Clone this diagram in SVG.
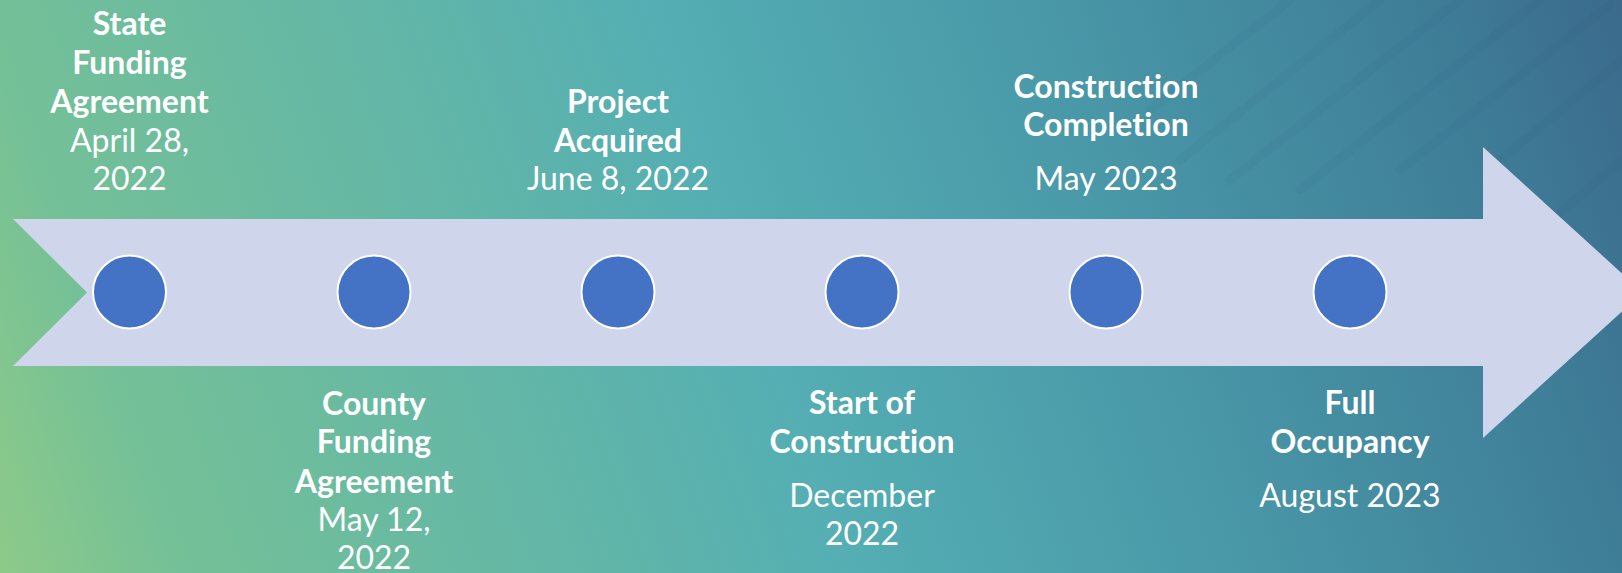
<svg xmlns="http://www.w3.org/2000/svg" width="1622" height="573" viewBox="0 0 1622 573">
  <defs>
    <linearGradient id="bg" gradientUnits="userSpaceOnUse" x1="0" y1="573" x2="1622" y2="0">
      <stop offset="0" stop-color="#8dca89"/>
      <stop offset="0.1" stop-color="#74c097"/>
      <stop offset="0.3" stop-color="#64b7a6"/>
      <stop offset="0.47" stop-color="#54aeb3"/>
      <stop offset="0.68" stop-color="#4998a8"/>
      <stop offset="0.88" stop-color="#3f7f98"/>
      <stop offset="1" stop-color="#3b6a8c"/>
    </linearGradient>
    <style>
      text { font-variant-ligatures: none; font-feature-settings: "liga" 0, "clig" 0; }
      .b { font-family: Lato, "Open Sans", "Liberation Sans", sans-serif; font-size: 32px; font-weight: bold; fill: #ffffff; text-anchor: middle; }
      .r { font-family: Lato, "Open Sans", "Liberation Sans", sans-serif; font-size: 32px; font-weight: normal; fill: #ffffff; text-anchor: middle; }
      .dot { fill: #4472c4; stroke: #ffffff; stroke-width: 2; }
      .streak { stroke: #1e557c; stroke-width: 9; stroke-linecap: round; opacity: 0.05; fill: none; }
    </style>
  </defs>

  <rect x="0" y="0" width="1622" height="573" fill="url(#bg)"/>

  <g id="texture">
    <line class="streak" x1="1150" y1="110" x2="1290" y2="0"/>
    <line class="streak" x1="1180" y1="160" x2="1380" y2="0"/>
    <line class="streak" x1="1230" y1="180" x2="1460" y2="0"/>
    <line class="streak" x1="1300" y1="190" x2="1540" y2="0"/>
    <line class="streak" x1="1400" y1="170" x2="1610" y2="5"/>
    <line class="streak" x1="1500" y1="160" x2="1622" y2="60"/>
    <line class="streak" x1="1540" y1="230" x2="1622" y2="160"/>
  </g>

  <g id="connectors">
    <polygon id="timeline-arrow" points="13,219 1483,219 1483,147 1643,292.5 1483,438 1483,366 13,366 87,292.5" fill="#cfd5ea"/>
  </g>

  <g id="node-state">
    <circle class="dot" cx="129.5" cy="292" r="36.5"/>
    <text class="b" x="129.5" y="35">State</text>
    <text class="b" x="129.5" y="74">Funding</text>
    <text class="b" x="129.5" y="113">Agreement</text>
    <text class="r" x="129.5" y="152">April 28,</text>
    <text class="r" x="129.5" y="190">2022</text>
  </g>

  <g id="node-county">
    <circle class="dot" cx="374" cy="292" r="36.5"/>
    <text class="b" x="374" y="415">County</text>
    <text class="b" x="374" y="453">Funding</text>
    <text class="b" x="374" y="493">Agreement</text>
    <text class="r" x="374" y="531">May 12,</text>
    <text class="r" x="374" y="569">2022</text>
  </g>

  <g id="node-project">
    <circle class="dot" cx="618" cy="292" r="36.5"/>
    <text class="b" x="618" y="113">Project</text>
    <text class="b" x="618" y="152">Acquired</text>
    <text class="r" x="618" y="190">June 8, 2022</text>
  </g>

  <g id="node-start">
    <circle class="dot" cx="862" cy="292" r="36.5"/>
    <text class="b" x="862" y="414">Start of</text>
    <text class="b" x="862" y="453">Construction</text>
    <text class="r" x="862" y="507">December</text>
    <text class="r" x="862" y="545">2022</text>
  </g>

  <g id="node-completion">
    <circle class="dot" cx="1106" cy="292" r="36.5"/>
    <text class="b" x="1106" y="98">Construction</text>
    <text class="b" x="1106" y="136">Completion</text>
    <text class="r" x="1106" y="190">May 2023</text>
  </g>

  <g id="node-occupancy">
    <circle class="dot" cx="1350" cy="292" r="36.5"/>
    <text class="b" x="1350" y="414">Full</text>
    <text class="b" x="1350" y="453">Occupancy</text>
    <text class="r" x="1350" y="507">August 2023</text>
  </g>
</svg>
